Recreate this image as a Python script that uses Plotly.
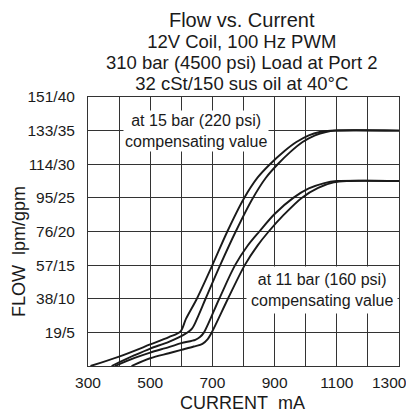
import plotly.graph_objects as go

# Flow (gpm) vs current (mA)
u1_ma = [308, 400, 500, 560, 597, 615, 650, 700, 748, 800, 845, 885, 930, 970, 1010, 1045, 1080, 1300]
u1_gpm = [0, 1.4, 3.2, 4.3, 5.1, 7.0, 10, 15, 20, 24.8, 28.0, 30, 31.9, 33.3, 34.3, 34.8, 35, 35]

u2_ma = [376, 450, 500, 560, 610, 635, 655, 678, 725, 775, 828, 872, 910, 950, 990, 1030, 1065, 1095, 1300]
u2_gpm = [0, 1.6, 2.6, 3.6, 4.7, 5.6, 7.5, 10, 15, 20, 24.8, 28.0, 30, 31.8, 33.3, 34.3, 34.8, 35, 35]

l1_ma = [387, 450, 500, 560, 600, 645, 660, 673, 722, 773, 812, 851, 900, 960, 1010, 1060, 1100, 1300]
l1_gpm = [0, 1.2, 2.0, 2.8, 3.4, 3.9, 4.3, 5, 10, 15, 17.8, 20, 22.6, 25, 26.4, 27.2, 27.5, 27.5]

l2_ma = [440, 500, 560, 600, 640, 668, 685, 698, 750, 804, 845, 881, 930, 987, 1040, 1090, 1132, 1300]
l2_gpm = [0, 1.15, 1.9, 2.4, 2.9, 3.3, 4.0, 5, 10, 15, 17.9, 20, 22.5, 25, 26.5, 27.3, 27.5, 27.5]

y_tickvals = [0, 5, 10, 15, 20, 25, 30, 35, 40]
y_ticktext = ["", "19/5", "38/10", "57/15", "76/20", "95/25", "114/30", "133/35", "151/40"]
x_tickvals = list(range(300, 1301, 100))
x_ticktext = ["300", "", "500", "", "700", "", "900", "", "1100", "", ""]
x_last_label = "1300"

title_lines = ["Flow vs. Current", "12V Coil, 100 Hz PWM",
               "310 bar (4500 psi) Load at Port 2", "32 cSt/150 sus oil at 40°C"]
label_upper = "at 15 bar (220 psi)<br>compensating value"
label_lower = "at 11 bar (160 psi)<br>compensating value"
x_title = "CURRENT\u00a0\u00a0mA"
y_title = "FLOW\u00a0\u00a0lpm/gpm"

FONT = "Liberation Sans, Arial, sans-serif"

fig = go.Figure()
for xs, ys in [(u1_ma, u1_gpm), (u2_ma, u2_gpm), (l1_ma, l1_gpm), (l2_ma, l2_gpm)]:
    fig.add_trace(go.Scatter(x=xs, y=ys, mode="lines",
                             line=dict(color="#1a1a1a", width=1.9, shape="spline", smoothing=0.9),
                             showlegend=False, hoverinfo="skip"))

# page body adds 8px offset; figure is 406x405 so plot area lands at x 88..399, y 97..366
fig.update_layout(
    width=406, height=405,
    margin=dict(l=80, r=15, t=89, b=47),
    paper_bgcolor="white", plot_bgcolor="white",
    font=dict(family=FONT, color="#1a1a1a", size=15),
    showlegend=False,
)
fig.update_xaxes(range=[300, 1300], tickvals=x_tickvals, ticktext=x_ticktext,
                 showgrid=True, gridcolor="#333", gridwidth=1,
                 showline=True, linecolor="#333", linewidth=1, mirror=True,
                 ticks="", ticklabelstandoff=2, zeroline=False,
                 tickfont=dict(size=15.5))
fig.update_yaxes(range=[0, 40], tickvals=y_tickvals, ticktext=y_ticktext,
                 showgrid=True, gridcolor="#333", gridwidth=1,
                 showline=True, linecolor="#333", linewidth=1, mirror=True,
                 ticks="", ticklabelstandoff=9, zeroline=False,
                 tickfont=dict(size=15.5))

fig.add_annotation(text=x_last_label, x=1300, xref="x", y=-0.0595, yref="paper",
                   xanchor="center", yanchor="middle", xshift=-10, showarrow=False,
                   font=dict(size=15.5))

title_text = "<br>".join(
    [f"<span style='font-size:20px'>{title_lines[0]}</span>"]
    + [f"<span style='font-size:18.5px'>{t}</span>" for t in title_lines[1:]]
)
fig.add_annotation(text=title_text, xref="paper", yref="paper", x=0.495, y=1.3309,
                   xanchor="center", yanchor="top", showarrow=False, borderpad=0,
                   font=dict(size=16.1))

fig.add_annotation(text=y_title, xref="paper", yref="paper", x=-0.222, y=0.4275,
                   textangle=-90, xanchor="center", yanchor="middle", showarrow=False,
                   font=dict(size=18))
fig.add_annotation(text=x_title, xref="paper", yref="paper", x=0.497, y=-0.136,
                   xanchor="center", yanchor="middle", showarrow=False,
                   font=dict(size=18))

fig.add_annotation(text=label_upper, x=647, y=35, xref="x", yref="y",
                   xanchor="center", yanchor="middle", showarrow=False,
                   bgcolor="white", font=dict(size=16))
fig.add_annotation(text=label_lower, x=1052, y=11.3, xref="x", yref="y",
                   xanchor="center", yanchor="middle", showarrow=False,
                   bgcolor="white", font=dict(size=16), borderpad=4)

fig.write_html("out.html")
